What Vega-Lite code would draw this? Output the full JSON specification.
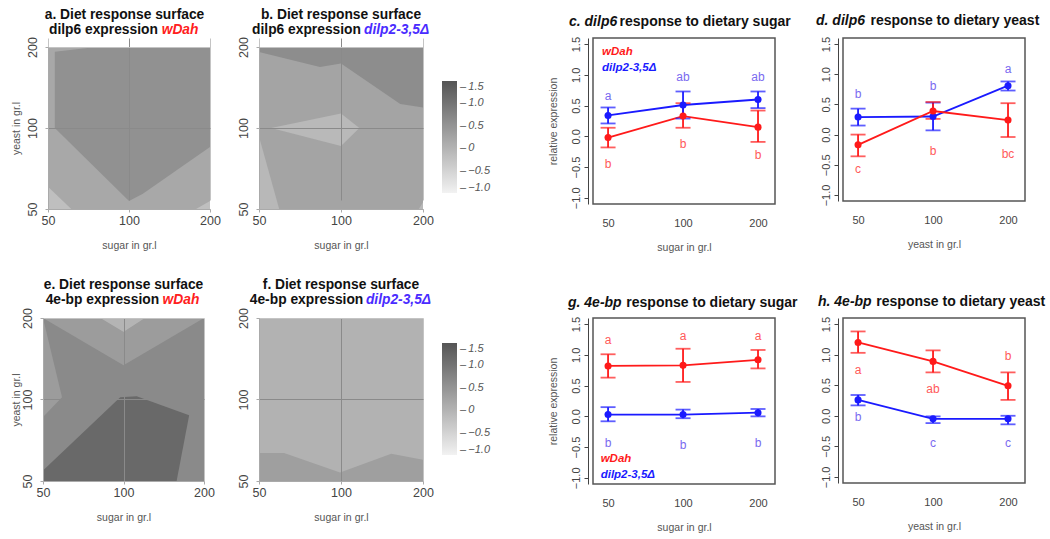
{
  "$schema": "https://vega.github.io/schema/vega-lite/v6.json",
  "background": "white",
  "padding": {"left": 11, "top": 7, "right": 0, "bottom": 0},
  "config": {
    "font": "Liberation Sans",
    "view": {"stroke": null},
    "title": {"font": "Liberation Sans", "subtitleFont": "Liberation Sans"},
    "axis": {"labelFont": "Liberation Sans", "titleFont": "Liberation Sans"},
    "legend": {"labelFont": "Liberation Sans"}
  },
  "datasets": {
    "contour": [
      {"panel": "a", "poly": "bg", "i": 0, "sugar": 50, "yeast": 50, "z": 0.18},
      {"panel": "a", "poly": "bg", "i": 1, "sugar": 200, "yeast": 50, "z": 0.18},
      {"panel": "a", "poly": "bg", "i": 2, "sugar": 200, "yeast": 200, "z": 0.18},
      {"panel": "a", "poly": "bg", "i": 3, "sugar": 50, "yeast": 200, "z": 0.18},
      {"panel": "a", "poly": "dark", "i": 0, "sugar": 53, "yeast": 100, "z": 0.55},
      {"panel": "a", "poly": "dark", "i": 1, "sugar": 53, "yeast": 192, "z": 0.55},
      {"panel": "a", "poly": "dark", "i": 2, "sugar": 75.5, "yeast": 200, "z": 0.55},
      {"panel": "a", "poly": "dark", "i": 3, "sugar": 200, "yeast": 200, "z": 0.55},
      {"panel": "a", "poly": "dark", "i": 4, "sugar": 200, "yeast": 85, "z": 0.55},
      {"panel": "a", "poly": "dark", "i": 5, "sugar": 112.6, "yeast": 57, "z": 0.55},
      {"panel": "a", "poly": "dark", "i": 6, "sugar": 100, "yeast": 53.6, "z": 0.55},
      {"panel": "a", "poly": "low1", "i": 0, "sugar": 50, "yeast": 50, "z": -0.19},
      {"panel": "a", "poly": "low1", "i": 1, "sugar": 50, "yeast": 60.5, "z": -0.19},
      {"panel": "a", "poly": "low1", "i": 2, "sugar": 61, "yeast": 50, "z": -0.19},
      {"panel": "a", "poly": "low2", "i": 0, "sugar": 177.5, "yeast": 50, "z": -0.19},
      {"panel": "a", "poly": "low2", "i": 1, "sugar": 200, "yeast": 50, "z": -0.19},
      {"panel": "a", "poly": "low2", "i": 2, "sugar": 200, "yeast": 53.6, "z": -0.19},

      {"panel": "b", "poly": "bg", "i": 0, "sugar": 50, "yeast": 50, "z": 0.24},
      {"panel": "b", "poly": "bg", "i": 1, "sugar": 200, "yeast": 50, "z": 0.24},
      {"panel": "b", "poly": "bg", "i": 2, "sugar": 200, "yeast": 200, "z": 0.24},
      {"panel": "b", "poly": "bg", "i": 3, "sugar": 50, "yeast": 200, "z": 0.24},
      {"panel": "b", "poly": "dark", "i": 0, "sugar": 50, "yeast": 191.5, "z": 0.61},
      {"panel": "b", "poly": "dark", "i": 1, "sugar": 50, "yeast": 200, "z": 0.61},
      {"panel": "b", "poly": "dark", "i": 2, "sugar": 200, "yeast": 200, "z": 0.61},
      {"panel": "b", "poly": "dark", "i": 3, "sugar": 200, "yeast": 119.3, "z": 0.61},
      {"panel": "b", "poly": "dark", "i": 4, "sugar": 165, "yeast": 122.7, "z": 0.61},
      {"panel": "b", "poly": "dark", "i": 5, "sugar": 100, "yeast": 173.5, "z": 0.61},
      {"panel": "b", "poly": "dark", "i": 6, "sugar": 83.7, "yeast": 168.6, "z": 0.61},
      {"panel": "b", "poly": "mid", "i": 0, "sugar": 55.4, "yeast": 100, "z": -0.1},
      {"panel": "b", "poly": "mid", "i": 1, "sugar": 100, "yeast": 113.3, "z": -0.1},
      {"panel": "b", "poly": "mid", "i": 2, "sugar": 116.8, "yeast": 100, "z": -0.1},
      {"panel": "b", "poly": "mid", "i": 3, "sugar": 100, "yeast": 85.8, "z": -0.1},
      {"panel": "b", "poly": "low1", "i": 0, "sugar": 50, "yeast": 50, "z": -0.08},
      {"panel": "b", "poly": "low1", "i": 1, "sugar": 50, "yeast": 92.9, "z": -0.08},
      {"panel": "b", "poly": "low1", "i": 2, "sugar": 59.3, "yeast": 50, "z": -0.08},
      {"panel": "b", "poly": "low2", "i": 0, "sugar": 193, "yeast": 50, "z": -0.08},
      {"panel": "b", "poly": "low2", "i": 1, "sugar": 200, "yeast": 50, "z": -0.08},
      {"panel": "b", "poly": "low2", "i": 2, "sugar": 200, "yeast": 53, "z": -0.08},

      {"panel": "e", "poly": "bg", "i": 0, "sugar": 50, "yeast": 50, "z": 0.66},
      {"panel": "e", "poly": "bg", "i": 1, "sugar": 200, "yeast": 50, "z": 0.66},
      {"panel": "e", "poly": "bg", "i": 2, "sugar": 200, "yeast": 200, "z": 0.66},
      {"panel": "e", "poly": "bg", "i": 3, "sugar": 50, "yeast": 200, "z": 0.66},
      {"panel": "e", "poly": "top", "i": 0, "sugar": 50, "yeast": 200, "z": 0.37},
      {"panel": "e", "poly": "top", "i": 1, "sugar": 81.8, "yeast": 200, "z": 0.37},
      {"panel": "e", "poly": "top", "i": 2, "sugar": 100, "yeast": 177.5, "z": 0.37},
      {"panel": "e", "poly": "top", "i": 3, "sugar": 120.5, "yeast": 200, "z": 0.37},
      {"panel": "e", "poly": "top", "i": 4, "sugar": 200, "yeast": 200, "z": 0.37},
      {"panel": "e", "poly": "top", "i": 5, "sugar": 100, "yeast": 133.7, "z": 0.37},
      {"panel": "e", "poly": "tip", "i": 0, "sugar": 81.8, "yeast": 200, "z": -0.02},
      {"panel": "e", "poly": "tip", "i": 1, "sugar": 100, "yeast": 177.5, "z": -0.02},
      {"panel": "e", "poly": "tip", "i": 2, "sugar": 120.5, "yeast": 200, "z": -0.02},
      {"panel": "e", "poly": "left", "i": 0, "sugar": 50, "yeast": 200, "z": 0.37},
      {"panel": "e", "poly": "left", "i": 1, "sugar": 58.9, "yeast": 102, "z": 0.37},
      {"panel": "e", "poly": "left", "i": 2, "sugar": 50, "yeast": 86.2, "z": 0.37},
      {"panel": "e", "poly": "dark", "i": 0, "sugar": 50, "yeast": 50, "z": 1.18},
      {"panel": "e", "poly": "dark", "i": 1, "sugar": 50, "yeast": 54.7, "z": 1.18},
      {"panel": "e", "poly": "dark", "i": 2, "sugar": 97.2, "yeast": 102, "z": 1.18},
      {"panel": "e", "poly": "dark", "i": 3, "sugar": 112, "yeast": 102.7, "z": 1.18},
      {"panel": "e", "poly": "dark", "i": 4, "sugar": 176, "yeast": 87.4, "z": 1.18},
      {"panel": "e", "poly": "dark", "i": 5, "sugar": 158, "yeast": 50, "z": 1.18},

      {"panel": "f", "poly": "bg", "i": 0, "sugar": 50, "yeast": 50, "z": 0.02},
      {"panel": "f", "poly": "bg", "i": 1, "sugar": 200, "yeast": 50, "z": 0.02},
      {"panel": "f", "poly": "bg", "i": 2, "sugar": 200, "yeast": 200, "z": 0.02},
      {"panel": "f", "poly": "bg", "i": 3, "sugar": 50, "yeast": 200, "z": 0.02},
      {"panel": "f", "poly": "band", "i": 0, "sugar": 50, "yeast": 50, "z": 0.32},
      {"panel": "f", "poly": "band", "i": 1, "sugar": 50, "yeast": 63.5, "z": 0.32},
      {"panel": "f", "poly": "band", "i": 2, "sugar": 61.8, "yeast": 63.5, "z": 0.32},
      {"panel": "f", "poly": "band", "i": 3, "sugar": 99.2, "yeast": 53.8, "z": 0.32},
      {"panel": "f", "poly": "band", "i": 4, "sugar": 152.9, "yeast": 63.1, "z": 0.32},
      {"panel": "f", "poly": "band", "i": 5, "sugar": 200, "yeast": 59.9, "z": 0.32},
      {"panel": "f", "poly": "band", "i": 6, "sugar": 200, "yeast": 50, "z": 0.32}
    ],
    "means": [
      {"panel": "c", "strain": "dilp2-3,5Δ", "dose": 50, "y": 0.34, "lo": 0.21, "hi": 0.47},
      {"panel": "c", "strain": "dilp2-3,5Δ", "dose": 100, "y": 0.51, "lo": 0.29, "hi": 0.73},
      {"panel": "c", "strain": "dilp2-3,5Δ", "dose": 200, "y": 0.60, "lo": 0.46, "hi": 0.73},
      {"panel": "c", "strain": "wDah", "dose": 50, "y": -0.02, "lo": -0.18, "hi": 0.14},
      {"panel": "c", "strain": "wDah", "dose": 100, "y": 0.33, "lo": 0.14, "hi": 0.54},
      {"panel": "c", "strain": "wDah", "dose": 200, "y": 0.15, "lo": -0.09, "hi": 0.42},
      {"panel": "d", "strain": "dilp2-3,5Δ", "dose": 50, "y": 0.29, "lo": 0.15, "hi": 0.43},
      {"panel": "d", "strain": "dilp2-3,5Δ", "dose": 100, "y": 0.30, "lo": 0.07, "hi": 0.53},
      {"panel": "d", "strain": "dilp2-3,5Δ", "dose": 200, "y": 0.81, "lo": 0.73, "hi": 0.88},
      {"panel": "d", "strain": "wDah", "dose": 50, "y": -0.17, "lo": -0.36, "hi": 0.0},
      {"panel": "d", "strain": "wDah", "dose": 100, "y": 0.39, "lo": 0.26, "hi": 0.54},
      {"panel": "d", "strain": "wDah", "dose": 200, "y": 0.24, "lo": -0.04, "hi": 0.52},
      {"panel": "g", "strain": "dilp2-3,5Δ", "dose": 50, "y": 0.03, "lo": -0.08, "hi": 0.15},
      {"panel": "g", "strain": "dilp2-3,5Δ", "dose": 100, "y": 0.03, "lo": -0.03, "hi": 0.11},
      {"panel": "g", "strain": "dilp2-3,5Δ", "dose": 200, "y": 0.06, "lo": 0.0, "hi": 0.12},
      {"panel": "g", "strain": "wDah", "dose": 50, "y": 0.82, "lo": 0.63, "hi": 1.01},
      {"panel": "g", "strain": "wDah", "dose": 100, "y": 0.83, "lo": 0.56, "hi": 1.10},
      {"panel": "g", "strain": "wDah", "dose": 200, "y": 0.92, "lo": 0.78, "hi": 1.08},
      {"panel": "h", "strain": "dilp2-3,5Δ", "dose": 50, "y": 0.26, "lo": 0.17, "hi": 0.34},
      {"panel": "h", "strain": "dilp2-3,5Δ", "dose": 100, "y": -0.05, "lo": -0.12, "hi": -0.01},
      {"panel": "h", "strain": "dilp2-3,5Δ", "dose": 200, "y": -0.05, "lo": -0.14, "hi": 0.0},
      {"panel": "h", "strain": "wDah", "dose": 50, "y": 1.20, "lo": 1.03, "hi": 1.38},
      {"panel": "h", "strain": "wDah", "dose": 100, "y": 0.89, "lo": 0.71, "hi": 1.07},
      {"panel": "h", "strain": "wDah", "dose": 200, "y": 0.49, "lo": 0.26, "hi": 0.71}
    ],
    "letters": [
      {"panel": "c", "strain": "dilp2-3,5Δ", "dose": 50, "y": 0.66, "label": "a"},
      {"panel": "c", "strain": "dilp2-3,5Δ", "dose": 100, "y": 0.96, "label": "ab"},
      {"panel": "c", "strain": "dilp2-3,5Δ", "dose": 200, "y": 0.96, "label": "ab"},
      {"panel": "c", "strain": "wDah", "dose": 50, "y": -0.45, "label": "b"},
      {"panel": "c", "strain": "wDah", "dose": 100, "y": -0.12, "label": "b"},
      {"panel": "c", "strain": "wDah", "dose": 200, "y": -0.30, "label": "b"},
      {"panel": "d", "strain": "dilp2-3,5Δ", "dose": 50, "y": 0.67, "label": "b"},
      {"panel": "d", "strain": "dilp2-3,5Δ", "dose": 100, "y": 0.81, "label": "b"},
      {"panel": "d", "strain": "dilp2-3,5Δ", "dose": 200, "y": 1.09, "label": "a"},
      {"panel": "d", "strain": "wDah", "dose": 50, "y": -0.57, "label": "c"},
      {"panel": "d", "strain": "wDah", "dose": 100, "y": -0.27, "label": "b"},
      {"panel": "d", "strain": "wDah", "dose": 200, "y": -0.32, "label": "bc"},
      {"panel": "g", "strain": "wDah", "dose": 50, "y": 1.24, "label": "a"},
      {"panel": "g", "strain": "wDah", "dose": 100, "y": 1.31, "label": "a"},
      {"panel": "g", "strain": "wDah", "dose": 200, "y": 1.31, "label": "a"},
      {"panel": "g", "strain": "dilp2-3,5Δ", "dose": 50, "y": -0.43, "label": "b"},
      {"panel": "g", "strain": "dilp2-3,5Δ", "dose": 100, "y": -0.46, "label": "b"},
      {"panel": "g", "strain": "dilp2-3,5Δ", "dose": 200, "y": -0.44, "label": "b"},
      {"panel": "h", "strain": "wDah", "dose": 50, "y": 0.75, "label": "a"},
      {"panel": "h", "strain": "wDah", "dose": 100, "y": 0.44, "label": "ab"},
      {"panel": "h", "strain": "wDah", "dose": 200, "y": 0.98, "label": "b"},
      {"panel": "h", "strain": "dilp2-3,5Δ", "dose": 50, "y": -0.02, "label": "b"},
      {"panel": "h", "strain": "dilp2-3,5Δ", "dose": 100, "y": -0.45, "label": "c"},
      {"panel": "h", "strain": "dilp2-3,5Δ", "dose": 200, "y": -0.45, "label": "c"}
    ],
    "keys": [
      {"panel": "c", "strain": "wDah", "dose": 47.3, "y": 1.38, "label": "wDah"},
      {"panel": "c", "strain": "dilp2-3,5Δ", "dose": 47.3, "y": 1.12, "label": "dilp2-3,5Δ"},
      {"panel": "g", "strain": "wDah", "dose": 46.7, "y": -0.70, "label": "wDah"},
      {"panel": "g", "strain": "dilp2-3,5Δ", "dose": 46.7, "y": -0.95, "label": "dilp2-3,5Δ"}
    ]
  },
  "columns": 7,
  "align": "each",
  "bounds": "flush",
  "spacing": 0,
  "resolve": {
    "scale": {"x": "independent", "y": "independent", "color": "independent", "fill": "independent"},
    "axis": {"x": "independent", "y": "independent"},
    "legend": {"color": "independent", "fill": "independent"}
  },
  "concat": [
    {
      "width": 167, "height": 171,
      "title": {"text": ["a. Diet response surface", "dilp6 expression\u00a0\u00a0\u00a0\u00a0\u00a0\u00a0\u00a0\u00a0\u00a0\u00a0\u00a0\u200b"], "subtitle": "\u200b\u00a0\u00a0\u00a0\u00a0\u00a0\u00a0\u00a0\u00a0\u00a0\u00a0\u00a0\u00a0\u00a0\u00a0\u00a0\u00a0\u00a0\u00a0\u00a0\u00a0\u00a0\u00a0\u00a0\u00a0\u00a0\u00a0\u00a0\u00a0\u00a0wDah", "frame": "group", "anchor": "middle", "dx": -2, "offset": 0, "fontSize": 13.8, "fontWeight": "bold", "color": "#111111", "lineHeight": 15, "subtitleFontSize": 13.8, "subtitleFontWeight": "bold", "subtitleFontStyle": "italic", "subtitleColor": "#ff2020", "subtitlePadding": -14},
      "data": {"name": "contour"},
      "transform": [{"filter": "datum.panel == 'a'"}],
      "encoding": {
        "x": {"field": "sugar", "type": "quantitative", "scale": {"type": "log", "domain": [50, 200], "nice": false, "range": [5, 167]}, "title": "sugar in gr.l",
          "axis": {"values": [50, 100, 200], "format": "d", "labelFlush": false, "labelOverlap": false, "grid": true, "gridColor": {"condition": {"test": "datum.value == 100", "value": "#8a8a8a"}, "value": "#c4c4c4"}, "domainColor": "#aaaaaa", "tickColor": "#aaaaaa", "tickSize": 3, "labelPadding": 2, "labelFontSize": 12.5, "labelColor": "#444444", "titleFontSize": 10.5, "titleFontWeight": "normal", "titleColor": "#555555", "titlePadding": 14, "zindex": 1}},
        "y": {"field": "yeast", "type": "quantitative", "scale": {"type": "log", "domain": [50, 200], "nice": false, "range": [171, 9]}, "title": "yeast in gr.l",
          "axis": {"values": [50, 100, 200], "format": "d", "offset": -5, "labelFlush": false, "labelOverlap": false, "labelAngle": -90, "labelAlign": "center", "labelBaseline": "bottom", "grid": true, "gridColor": {"condition": {"test": "datum.value == 100", "value": "#8a8a8a"}, "value": "#c4c4c4"}, "domainColor": "#aaaaaa", "tickColor": "#aaaaaa", "tickSize": 3, "labelPadding": 6, "labelFontSize": 12.5, "labelColor": "#444444", "titleFontSize": 10.5, "titleFontWeight": "normal", "titleColor": "#555555", "titlePadding": 5, "zindex": 1}},
        "order": {"field": "i", "type": "quantitative"},
        "detail": {"field": "poly", "type": "nominal"},
        "fill": {"field": "z", "type": "quantitative", "scale": {"domain": [-1, 1.5], "range": ["#f2f2f2", "#555555"], "interpolate": "rgb"}, "legend": null}
      },
      "layer": [
        {"transform": [{"filter": "datum.poly == 'bg'"}], "mark": {"type": "line", "interpolate": "linear-closed", "strokeWidth": 0, "clip": true}},
        {"transform": [{"filter": "datum.poly != 'bg'"}], "mark": {"type": "line", "interpolate": "linear-closed", "strokeWidth": 0, "clip": true}}
      ]
    },
    {"width": 49, "height": 1, "data": {"values": []}, "mark": "point"},
    {
      "width": 164, "height": 171,
      "title": {"text": ["b. Diet response surface", "dilp6 expression\u00a0\u00a0\u00a0\u00a0\u00a0\u00a0\u00a0\u00a0\u00a0\u00a0\u00a0\u00a0\u00a0\u00a0\u00a0\u00a0\u00a0\u00a0\u200b"], "subtitle": "\u200b\u00a0\u00a0\u00a0\u00a0\u00a0\u00a0\u00a0\u00a0\u00a0\u00a0\u00a0\u00a0\u00a0\u00a0\u00a0\u00a0\u00a0\u00a0\u00a0\u00a0\u00a0\u00a0\u00a0\u00a0\u00a0\u00a0\u00a0\u00a0\u00a0dilp2-3,5Δ", "frame": "group", "anchor": "middle", "offset": 0, "fontSize": 13.8, "fontWeight": "bold", "color": "#111111", "lineHeight": 15, "subtitleFontSize": 13.8, "subtitleFontWeight": "bold", "subtitleFontStyle": "italic", "subtitleColor": "#4a2cff", "subtitlePadding": -14},
      "data": {"name": "contour"},
      "transform": [{"filter": "datum.panel == 'b'"}],
      "encoding": {
        "x": {"field": "sugar", "type": "quantitative", "scale": {"type": "log", "domain": [50, 200], "nice": false}, "title": "sugar in gr.l",
          "axis": {"values": [50, 100, 200], "format": "d", "labelFlush": false, "labelOverlap": false, "grid": true, "gridColor": {"condition": {"test": "datum.value == 100", "value": "#8a8a8a"}, "value": "#c4c4c4"}, "domainColor": "#aaaaaa", "tickColor": "#aaaaaa", "tickSize": 3, "labelPadding": 2, "labelFontSize": 12.5, "labelColor": "#444444", "titleFontSize": 10.5, "titleFontWeight": "normal", "titleColor": "#555555", "titlePadding": 14, "zindex": 1}},
        "y": {"field": "yeast", "type": "quantitative", "scale": {"type": "log", "domain": [50, 200], "nice": false, "range": [171, 9]}, "title": null,
          "axis": {"values": [50, 100, 200], "format": "d", "labelFlush": false, "labelOverlap": false, "labelAngle": -90, "labelAlign": "center", "labelBaseline": "bottom", "grid": true, "gridColor": {"condition": {"test": "datum.value == 100", "value": "#8a8a8a"}, "value": "#c4c4c4"}, "domainColor": "#aaaaaa", "tickColor": "#aaaaaa", "tickSize": 3, "labelPadding": 6, "labelFontSize": 12.5, "labelColor": "#444444", "zindex": 1}},
        "order": {"field": "i", "type": "quantitative"},
        "detail": {"field": "poly", "type": "nominal"},
        "fill": {"field": "z", "type": "quantitative", "scale": {"domain": [-1, 1.5], "range": ["#f2f2f2", "#555555"], "interpolate": "rgb"},
          "legend": {"orient": "none", "legendX": 183, "legendY": 43, "direction": "vertical", "title": null, "padding": 0, "gradientLength": 112, "gradientThickness": 15, "gradientStrokeWidth": 0, "values": [-1, -0.5, 0, 0.5, 1, 1.5], "labelExpr": "'\u2013\u2009' + (datum.value == 0 ? '0' : format(datum.value, '.1f'))", "labelFontSize": 11, "labelFontStyle": "italic", "labelColor": "#555555", "labelOffset": 3}}
      },
      "layer": [
        {"transform": [{"filter": "datum.poly == 'bg'"}], "mark": {"type": "line", "interpolate": "linear-closed", "strokeWidth": 0, "clip": true}},
        {"transform": [{"filter": "datum.poly != 'bg'"}], "mark": {"type": "line", "interpolate": "linear-closed", "strokeWidth": 0, "clip": true}}
      ]
    },
    {"width": 170, "height": 1, "data": {"values": []}, "mark": "point"},
    {
      "width": 182, "height": 166,
      "title": {"text": "c. dilp6", "subtitle": "\u200b\u00a0\u00a0\u00a0\u00a0\u00a0\u00a0\u00a0\u00a0\u00a0\u00a0\u00a0\u00a0\u00a0response to dietary sugar", "frame": "group", "anchor": "start", "dx": -24, "offset": 8, "fontSize": 14, "fontWeight": "bold", "fontStyle": "italic", "color": "#111111", "subtitleFontSize": 14, "subtitleFontWeight": "bold", "subtitleFontStyle": "normal", "subtitleColor": "#111111", "subtitlePadding": -14},
      "view": {"stroke": "#555555", "strokeWidth": 1.5},
      "encoding": {
        "x": {"field": "dose", "type": "quantitative", "scale": {"type": "log", "domain": [43.5, 234], "nice": false}, "title": "sugar in gr.l",
          "axis": {"values": [50, 100, 200], "format": "d", "labelFlush": false, "labelOverlap": false, "domain": false, "ticks": false, "grid": false, "labelPadding": 13, "labelFontSize": 11, "labelColor": "#444444", "titleFontSize": 10.5, "titleFontWeight": "normal", "titleColor": "#555555", "titlePadding": 14}},
        "y": {"field": "y", "type": "quantitative", "scale": {"domain": [-1.1, 1.6], "nice": false, "zero": false}, "title": "relative expression",
          "axis": {"values": [-1, -0.5, 0, 0.5, 1, 1.5], "format": ".1f", "labelFlush": false, "labelOverlap": false, "labelAngle": -90, "labelAlign": "center", "labelBaseline": "bottom", "offset": 5, "grid": false, "domainColor": "#444444", "tickColor": "#444444", "tickSize": 4, "labelPadding": 3, "labelFontSize": 11, "labelColor": "#444444", "titleFontSize": 10.5, "titleFontWeight": "normal", "titleColor": "#555555", "titlePadding": 12}}
      },
      "layer": [
        {"data": {"name": "means"}, "transform": [{"filter": "datum.panel == 'c'"}], "mark": {"type": "line", "strokeWidth": 1.8},
          "encoding": {"color": {"field": "strain", "type": "nominal", "scale": {"domain": ["wDah", "dilp2-3,5Δ"], "range": ["#ff1a1a", "#1a1aff"]}, "legend": null}}},
        {"data": {"name": "means"}, "transform": [{"filter": "datum.panel == 'c'"}], "mark": {"type": "rule", "strokeWidth": 1.8},
          "encoding": {"y2": {"field": "hi"}, "color": {"field": "strain", "type": "nominal", "scale": {"domain": ["wDah", "dilp2-3,5Δ"], "range": ["#ff1a1a", "#1a1aff"]}, "legend": null}}},
        {"data": {"name": "means"}, "transform": [{"filter": "datum.panel == 'c'"}], "mark": {"type": "rule", "strokeWidth": 1.8},
          "encoding": {"y2": {"field": "lo"}, "color": {"field": "strain", "type": "nominal", "scale": {"domain": ["wDah", "dilp2-3,5Δ"], "range": ["#ff1a1a", "#1a1aff"]}, "legend": null}}},
        {"data": {"name": "means"}, "transform": [{"filter": "datum.panel == 'c'"}, {"fold": ["lo", "hi"], "as": ["end", "y"]}], "mark": {"type": "tick", "orient": "horizontal", "size": 15, "thickness": 1.8},
          "encoding": {"color": {"field": "strain", "type": "nominal", "scale": {"domain": ["wDah", "dilp2-3,5Δ"], "range": ["#ff1a1a", "#1a1aff"]}, "legend": null}}},
        {"data": {"name": "means"}, "transform": [{"filter": "datum.panel == 'c'"}], "mark": {"type": "circle", "size": 50, "opacity": 1},
          "encoding": {"color": {"field": "strain", "type": "nominal", "scale": {"domain": ["wDah", "dilp2-3,5Δ"], "range": ["#ff1a1a", "#1a1aff"]}, "legend": null}}},
        {"data": {"name": "letters"}, "transform": [{"filter": "datum.panel == 'c'"}], "mark": {"type": "text", "fontSize": 12, "baseline": "middle"},
          "encoding": {"text": {"field": "label"}, "fill": {"field": "strain", "type": "nominal", "scale": {"domain": ["wDah", "dilp2-3,5Δ"], "range": ["#ff5a5a", "#7a6af0"]}, "legend": null}}},
        {"data": {"name": "keys"}, "transform": [{"filter": "datum.panel == 'c'"}], "mark": {"type": "text", "fontSize": 11.5, "fontWeight": "bold", "fontStyle": "italic", "align": "left", "baseline": "middle"},
          "encoding": {"text": {"field": "label"}, "color": {"field": "strain", "type": "nominal", "scale": {"domain": ["wDah", "dilp2-3,5Δ"], "range": ["#ff1a1a", "#1a1aff"]}, "legend": null}}}
      ]
    },
    {"width": 68, "height": 1, "data": {"values": []}, "mark": "point"},
    {
      "width": 182, "height": 163,
      "title": {"text": "d. dilp6", "subtitle": "\u200b\u00a0\u00a0\u00a0\u00a0\u00a0\u00a0\u00a0\u00a0\u00a0\u00a0\u00a0\u00a0\u00a0\u00a0response to dietary yeast", "frame": "group", "anchor": "start", "dx": -27, "offset": 8, "fontSize": 14, "fontWeight": "bold", "fontStyle": "italic", "color": "#111111", "subtitleFontSize": 14, "subtitleFontWeight": "bold", "subtitleFontStyle": "normal", "subtitleColor": "#111111", "subtitlePadding": -14},
      "view": {"stroke": "#555555", "strokeWidth": 1.5},
      "encoding": {
        "x": {"field": "dose", "type": "quantitative", "scale": {"type": "log", "domain": [43.5, 234], "nice": false}, "title": "yeast in gr.l",
          "axis": {"values": [50, 100, 200], "format": "d", "labelFlush": false, "labelOverlap": false, "domain": false, "ticks": false, "grid": false, "labelPadding": 13, "labelFontSize": 11, "labelColor": "#444444", "titleFontSize": 10.5, "titleFontWeight": "normal", "titleColor": "#555555", "titlePadding": 14}},
        "y": {"field": "y", "type": "quantitative", "scale": {"domain": [-1.1, 1.6], "nice": false, "zero": false}, "title": null,
          "axis": {"values": [-1, -0.5, 0, 0.5, 1, 1.5], "format": ".1f", "labelFlush": false, "labelOverlap": false, "labelAngle": -90, "labelAlign": "center", "labelBaseline": "bottom", "offset": 5, "grid": false, "domainColor": "#444444", "tickColor": "#444444", "tickSize": 4, "labelPadding": 3, "labelFontSize": 11, "labelColor": "#444444"}}
      },
      "layer": [
        {"data": {"name": "means"}, "transform": [{"filter": "datum.panel == 'd'"}], "mark": {"type": "line", "strokeWidth": 1.8},
          "encoding": {"color": {"field": "strain", "type": "nominal", "scale": {"domain": ["wDah", "dilp2-3,5Δ"], "range": ["#ff1a1a", "#1a1aff"]}, "legend": null}}},
        {"data": {"name": "means"}, "transform": [{"filter": "datum.panel == 'd'"}], "mark": {"type": "rule", "strokeWidth": 1.8},
          "encoding": {"y2": {"field": "hi"}, "color": {"field": "strain", "type": "nominal", "scale": {"domain": ["wDah", "dilp2-3,5Δ"], "range": ["#ff1a1a", "#1a1aff"]}, "legend": null}}},
        {"data": {"name": "means"}, "transform": [{"filter": "datum.panel == 'd'"}], "mark": {"type": "rule", "strokeWidth": 1.8},
          "encoding": {"y2": {"field": "lo"}, "color": {"field": "strain", "type": "nominal", "scale": {"domain": ["wDah", "dilp2-3,5Δ"], "range": ["#ff1a1a", "#1a1aff"]}, "legend": null}}},
        {"data": {"name": "means"}, "transform": [{"filter": "datum.panel == 'd'"}, {"fold": ["lo", "hi"], "as": ["end", "y"]}], "mark": {"type": "tick", "orient": "horizontal", "size": 15, "thickness": 1.8},
          "encoding": {"color": {"field": "strain", "type": "nominal", "scale": {"domain": ["wDah", "dilp2-3,5Δ"], "range": ["#ff1a1a", "#1a1aff"]}, "legend": null}}},
        {"data": {"name": "means"}, "transform": [{"filter": "datum.panel == 'd'"}], "mark": {"type": "circle", "size": 50, "opacity": 1},
          "encoding": {"color": {"field": "strain", "type": "nominal", "scale": {"domain": ["wDah", "dilp2-3,5Δ"], "range": ["#ff1a1a", "#1a1aff"]}, "legend": null}}},
        {"data": {"name": "letters"}, "transform": [{"filter": "datum.panel == 'd'"}], "mark": {"type": "text", "fontSize": 12, "baseline": "middle"},
          "encoding": {"text": {"field": "label"}, "fill": {"field": "strain", "type": "nominal", "scale": {"domain": ["wDah", "dilp2-3,5Δ"], "range": ["#ff5a5a", "#7a6af0"]}, "legend": null}}}
      ]
    },

    {"width": 167, "height": 109, "data": {"values": []}, "mark": "point"},
    {"width": 49, "height": 1, "data": {"values": []}, "mark": "point"},
    {"width": 164, "height": 1, "data": {"values": []}, "mark": "point"},
    {"width": 170, "height": 1, "data": {"values": []}, "mark": "point"},
    {"width": 182, "height": 1, "data": {"values": []}, "mark": "point"},
    {"width": 68, "height": 1, "data": {"values": []}, "mark": "point"},
    {"width": 182, "height": 1, "data": {"values": []}, "mark": "point"},

    {
      "width": 167, "height": 163,
      "title": {"text": ["e. Diet response surface", "4e-bp expression\u00a0\u00a0\u00a0\u00a0\u00a0\u00a0\u00a0\u00a0\u00a0\u00a0\u00a0\u200b"], "subtitle": "\u200b\u00a0\u00a0\u00a0\u00a0\u00a0\u00a0\u00a0\u00a0\u00a0\u00a0\u00a0\u00a0\u00a0\u00a0\u00a0\u00a0\u00a0\u00a0\u00a0\u00a0\u00a0\u00a0\u00a0\u00a0\u00a0\u00a0\u00a0\u00a0\u00a0\u00a0wDah", "frame": "group", "anchor": "middle", "dx": -3, "offset": 1, "fontSize": 13.8, "fontWeight": "bold", "color": "#111111", "lineHeight": 15, "subtitleFontSize": 13.8, "subtitleFontWeight": "bold", "subtitleFontStyle": "italic", "subtitleColor": "#ff2020", "subtitlePadding": -14},
      "data": {"name": "contour"},
      "transform": [{"filter": "datum.panel == 'e'"}],
      "encoding": {
        "x": {"field": "sugar", "type": "quantitative", "scale": {"type": "log", "domain": [50, 200], "nice": false, "range": [0, 161]}, "title": "sugar in gr.l",
          "axis": {"values": [50, 100, 200], "format": "d", "labelFlush": false, "labelOverlap": false, "grid": true, "gridColor": {"condition": {"test": "datum.value == 100", "value": "#8a8a8a"}, "value": "#c4c4c4"}, "domainColor": "#aaaaaa", "tickColor": "#aaaaaa", "tickSize": 3, "labelPadding": 2, "labelFontSize": 12.5, "labelColor": "#444444", "titleFontSize": 10.5, "titleFontWeight": "normal", "titleColor": "#555555", "titlePadding": 14, "zindex": 1}},
        "y": {"field": "yeast", "type": "quantitative", "scale": {"type": "log", "domain": [50, 200], "nice": false}, "title": "yeast in gr.l",
          "axis": {"values": [50, 100, 200], "format": "d", "labelFlush": false, "labelOverlap": false, "labelAngle": -90, "labelAlign": "center", "labelBaseline": "bottom", "grid": true, "gridColor": {"condition": {"test": "datum.value == 100", "value": "#8a8a8a"}, "value": "#c4c4c4"}, "domainColor": "#aaaaaa", "tickColor": "#aaaaaa", "tickSize": 3, "labelPadding": 6, "labelFontSize": 12.5, "labelColor": "#444444", "titleFontSize": 10.5, "titleFontWeight": "normal", "titleColor": "#555555", "titlePadding": 0, "zindex": 1}},
        "order": {"field": "i", "type": "quantitative"},
        "detail": {"field": "poly", "type": "nominal"},
        "fill": {"field": "z", "type": "quantitative", "scale": {"domain": [-1, 1.5], "range": ["#f2f2f2", "#555555"], "interpolate": "rgb"}, "legend": null}
      },
      "layer": [
        {"transform": [{"filter": "datum.poly == 'bg'"}], "mark": {"type": "line", "interpolate": "linear-closed", "strokeWidth": 0, "clip": true}},
        {"transform": [{"filter": "datum.poly != 'bg'"}], "mark": {"type": "line", "interpolate": "linear-closed", "strokeWidth": 0, "clip": true}}
      ]
    },
    {"width": 49, "height": 1, "data": {"values": []}, "mark": "point"},
    {
      "width": 164, "height": 163,
      "title": {"text": ["f. Diet response surface", "4e-bp expression\u00a0\u00a0\u00a0\u00a0\u00a0\u00a0\u00a0\u00a0\u00a0\u00a0\u00a0\u00a0\u00a0\u00a0\u00a0\u00a0\u00a0\u00a0\u200b"], "subtitle": "\u200b\u00a0\u00a0\u00a0\u00a0\u00a0\u00a0\u00a0\u00a0\u00a0\u00a0\u00a0\u00a0\u00a0\u00a0\u00a0\u00a0\u00a0\u00a0\u00a0\u00a0\u00a0\u00a0\u00a0\u00a0\u00a0\u00a0\u00a0\u00a0\u00a0\u00a0dilp2-3,5Δ", "frame": "group", "anchor": "middle", "offset": 1, "fontSize": 13.8, "fontWeight": "bold", "color": "#111111", "lineHeight": 15, "subtitleFontSize": 13.8, "subtitleFontWeight": "bold", "subtitleFontStyle": "italic", "subtitleColor": "#4a2cff", "subtitlePadding": -14},
      "data": {"name": "contour"},
      "transform": [{"filter": "datum.panel == 'f'"}],
      "encoding": {
        "x": {"field": "sugar", "type": "quantitative", "scale": {"type": "log", "domain": [50, 200], "nice": false}, "title": "sugar in gr.l",
          "axis": {"values": [50, 100, 200], "format": "d", "labelFlush": false, "labelOverlap": false, "grid": true, "gridColor": {"condition": {"test": "datum.value == 100", "value": "#8a8a8a"}, "value": "#c4c4c4"}, "domainColor": "#aaaaaa", "tickColor": "#aaaaaa", "tickSize": 3, "labelPadding": 2, "labelFontSize": 12.5, "labelColor": "#444444", "titleFontSize": 10.5, "titleFontWeight": "normal", "titleColor": "#555555", "titlePadding": 14, "zindex": 1}},
        "y": {"field": "yeast", "type": "quantitative", "scale": {"type": "log", "domain": [50, 200], "nice": false}, "title": null,
          "axis": {"values": [50, 100, 200], "format": "d", "labelFlush": false, "labelOverlap": false, "labelAngle": -90, "labelAlign": "center", "labelBaseline": "bottom", "grid": true, "gridColor": {"condition": {"test": "datum.value == 100", "value": "#8a8a8a"}, "value": "#c4c4c4"}, "domainColor": "#aaaaaa", "tickColor": "#aaaaaa", "tickSize": 3, "labelPadding": 6, "labelFontSize": 12.5, "labelColor": "#444444", "zindex": 1}},
        "order": {"field": "i", "type": "quantitative"},
        "detail": {"field": "poly", "type": "nominal"},
        "fill": {"field": "z", "type": "quantitative", "scale": {"domain": [-1, 1.5], "range": ["#f2f2f2", "#555555"], "interpolate": "rgb"},
          "legend": {"orient": "none", "legendX": 183, "legendY": 25, "direction": "vertical", "title": null, "padding": 0, "gradientLength": 112, "gradientThickness": 15, "gradientStrokeWidth": 0, "values": [-1, -0.5, 0, 0.5, 1, 1.5], "labelExpr": "'\u2013\u2009' + (datum.value == 0 ? '0' : format(datum.value, '.1f'))", "labelFontSize": 11, "labelFontStyle": "italic", "labelColor": "#555555", "labelOffset": 3}}
      },
      "layer": [
        {"transform": [{"filter": "datum.poly == 'bg'"}], "mark": {"type": "line", "interpolate": "linear-closed", "strokeWidth": 0, "clip": true}},
        {"transform": [{"filter": "datum.poly != 'bg'"}], "mark": {"type": "line", "interpolate": "linear-closed", "strokeWidth": 0, "clip": true}}
      ]
    },
    {"width": 170, "height": 1, "data": {"values": []}, "mark": "point"},
    {
      "width": 182, "height": 166,
      "title": {"text": "g. 4e-bp", "subtitle": "\u200b\u00a0\u00a0\u00a0\u00a0\u00a0\u00a0\u00a0\u00a0\u00a0\u00a0\u00a0\u00a0\u00a0\u00a0\u00a0response to dietary sugar", "frame": "group", "anchor": "start", "dx": -25, "offset": 7, "fontSize": 14, "fontWeight": "bold", "fontStyle": "italic", "color": "#111111", "subtitleFontSize": 14, "subtitleFontWeight": "bold", "subtitleFontStyle": "normal", "subtitleColor": "#111111", "subtitlePadding": -14},
      "view": {"stroke": "#555555", "strokeWidth": 1.5},
      "encoding": {
        "x": {"field": "dose", "type": "quantitative", "scale": {"type": "log", "domain": [43.5, 234], "nice": false}, "title": "sugar in gr.l",
          "axis": {"values": [50, 100, 200], "format": "d", "labelFlush": false, "labelOverlap": false, "domain": false, "ticks": false, "grid": false, "labelPadding": 13, "labelFontSize": 11, "labelColor": "#444444", "titleFontSize": 10.5, "titleFontWeight": "normal", "titleColor": "#555555", "titlePadding": 14}},
        "y": {"field": "y", "type": "quantitative", "scale": {"domain": [-1.1, 1.6], "nice": false, "zero": false}, "title": "relative expression",
          "axis": {"values": [-1, -0.5, 0, 0.5, 1, 1.5], "format": ".1f", "labelFlush": false, "labelOverlap": false, "labelAngle": -90, "labelAlign": "center", "labelBaseline": "bottom", "offset": 5, "grid": false, "domainColor": "#444444", "tickColor": "#444444", "tickSize": 4, "labelPadding": 3, "labelFontSize": 11, "labelColor": "#444444", "titleFontSize": 10.5, "titleFontWeight": "normal", "titleColor": "#555555", "titlePadding": 12}}
      },
      "layer": [
        {"data": {"name": "means"}, "transform": [{"filter": "datum.panel == 'g'"}], "mark": {"type": "line", "strokeWidth": 1.8},
          "encoding": {"color": {"field": "strain", "type": "nominal", "scale": {"domain": ["wDah", "dilp2-3,5Δ"], "range": ["#ff1a1a", "#1a1aff"]}, "legend": null}}},
        {"data": {"name": "means"}, "transform": [{"filter": "datum.panel == 'g'"}], "mark": {"type": "rule", "strokeWidth": 1.8},
          "encoding": {"y2": {"field": "hi"}, "color": {"field": "strain", "type": "nominal", "scale": {"domain": ["wDah", "dilp2-3,5Δ"], "range": ["#ff1a1a", "#1a1aff"]}, "legend": null}}},
        {"data": {"name": "means"}, "transform": [{"filter": "datum.panel == 'g'"}], "mark": {"type": "rule", "strokeWidth": 1.8},
          "encoding": {"y2": {"field": "lo"}, "color": {"field": "strain", "type": "nominal", "scale": {"domain": ["wDah", "dilp2-3,5Δ"], "range": ["#ff1a1a", "#1a1aff"]}, "legend": null}}},
        {"data": {"name": "means"}, "transform": [{"filter": "datum.panel == 'g'"}, {"fold": ["lo", "hi"], "as": ["end", "y"]}], "mark": {"type": "tick", "orient": "horizontal", "size": 15, "thickness": 1.8},
          "encoding": {"color": {"field": "strain", "type": "nominal", "scale": {"domain": ["wDah", "dilp2-3,5Δ"], "range": ["#ff1a1a", "#1a1aff"]}, "legend": null}}},
        {"data": {"name": "means"}, "transform": [{"filter": "datum.panel == 'g'"}], "mark": {"type": "circle", "size": 50, "opacity": 1},
          "encoding": {"color": {"field": "strain", "type": "nominal", "scale": {"domain": ["wDah", "dilp2-3,5Δ"], "range": ["#ff1a1a", "#1a1aff"]}, "legend": null}}},
        {"data": {"name": "letters"}, "transform": [{"filter": "datum.panel == 'g'"}], "mark": {"type": "text", "fontSize": 12, "baseline": "middle"},
          "encoding": {"text": {"field": "label"}, "fill": {"field": "strain", "type": "nominal", "scale": {"domain": ["wDah", "dilp2-3,5Δ"], "range": ["#ff5a5a", "#7a6af0"]}, "legend": null}}},
        {"data": {"name": "keys"}, "transform": [{"filter": "datum.panel == 'g'"}], "mark": {"type": "text", "fontSize": 11.5, "fontWeight": "bold", "fontStyle": "italic", "align": "left", "baseline": "middle"},
          "encoding": {"text": {"field": "label"}, "color": {"field": "strain", "type": "nominal", "scale": {"domain": ["wDah", "dilp2-3,5Δ"], "range": ["#ff1a1a", "#1a1aff"]}, "legend": null}}}
      ]
    },
    {"width": 68, "height": 1, "data": {"values": []}, "mark": "point"},
    {
      "width": 182, "height": 165,
      "title": {"text": "h. 4e-bp", "subtitle": "\u200b\u00a0\u00a0\u00a0\u00a0\u00a0\u00a0\u00a0\u00a0\u00a0\u00a0\u00a0\u00a0\u00a0\u00a0\u00a0response to dietary yeast", "frame": "group", "anchor": "start", "dx": -25, "offset": 7, "fontSize": 14, "fontWeight": "bold", "fontStyle": "italic", "color": "#111111", "subtitleFontSize": 14, "subtitleFontWeight": "bold", "subtitleFontStyle": "normal", "subtitleColor": "#111111", "subtitlePadding": -14},
      "view": {"stroke": "#555555", "strokeWidth": 1.5},
      "encoding": {
        "x": {"field": "dose", "type": "quantitative", "scale": {"type": "log", "domain": [43.5, 234], "nice": false}, "title": "yeast in gr.l",
          "axis": {"values": [50, 100, 200], "format": "d", "labelFlush": false, "labelOverlap": false, "domain": false, "ticks": false, "grid": false, "labelPadding": 13, "labelFontSize": 11, "labelColor": "#444444", "titleFontSize": 10.5, "titleFontWeight": "normal", "titleColor": "#555555", "titlePadding": 14}},
        "y": {"field": "y", "type": "quantitative", "scale": {"domain": [-1.1, 1.6], "nice": false, "zero": false}, "title": null,
          "axis": {"values": [-1, -0.5, 0, 0.5, 1, 1.5], "format": ".1f", "labelFlush": false, "labelOverlap": false, "labelAngle": -90, "labelAlign": "center", "labelBaseline": "bottom", "offset": 5, "grid": false, "domainColor": "#444444", "tickColor": "#444444", "tickSize": 4, "labelPadding": 3, "labelFontSize": 11, "labelColor": "#444444"}}
      },
      "layer": [
        {"data": {"name": "means"}, "transform": [{"filter": "datum.panel == 'h'"}], "mark": {"type": "line", "strokeWidth": 1.8},
          "encoding": {"color": {"field": "strain", "type": "nominal", "scale": {"domain": ["wDah", "dilp2-3,5Δ"], "range": ["#ff1a1a", "#1a1aff"]}, "legend": null}}},
        {"data": {"name": "means"}, "transform": [{"filter": "datum.panel == 'h'"}], "mark": {"type": "rule", "strokeWidth": 1.8},
          "encoding": {"y2": {"field": "hi"}, "color": {"field": "strain", "type": "nominal", "scale": {"domain": ["wDah", "dilp2-3,5Δ"], "range": ["#ff1a1a", "#1a1aff"]}, "legend": null}}},
        {"data": {"name": "means"}, "transform": [{"filter": "datum.panel == 'h'"}], "mark": {"type": "rule", "strokeWidth": 1.8},
          "encoding": {"y2": {"field": "lo"}, "color": {"field": "strain", "type": "nominal", "scale": {"domain": ["wDah", "dilp2-3,5Δ"], "range": ["#ff1a1a", "#1a1aff"]}, "legend": null}}},
        {"data": {"name": "means"}, "transform": [{"filter": "datum.panel == 'h'"}, {"fold": ["lo", "hi"], "as": ["end", "y"]}], "mark": {"type": "tick", "orient": "horizontal", "size": 15, "thickness": 1.8},
          "encoding": {"color": {"field": "strain", "type": "nominal", "scale": {"domain": ["wDah", "dilp2-3,5Δ"], "range": ["#ff1a1a", "#1a1aff"]}, "legend": null}}},
        {"data": {"name": "means"}, "transform": [{"filter": "datum.panel == 'h'"}], "mark": {"type": "circle", "size": 50, "opacity": 1},
          "encoding": {"color": {"field": "strain", "type": "nominal", "scale": {"domain": ["wDah", "dilp2-3,5Δ"], "range": ["#ff1a1a", "#1a1aff"]}, "legend": null}}},
        {"data": {"name": "letters"}, "transform": [{"filter": "datum.panel == 'h'"}], "mark": {"type": "text", "fontSize": 12, "baseline": "middle"},
          "encoding": {"text": {"field": "label"}, "fill": {"field": "strain", "type": "nominal", "scale": {"domain": ["wDah", "dilp2-3,5Δ"], "range": ["#ff5a5a", "#7a6af0"]}, "legend": null}}}
      ]
    }
  ]
}
